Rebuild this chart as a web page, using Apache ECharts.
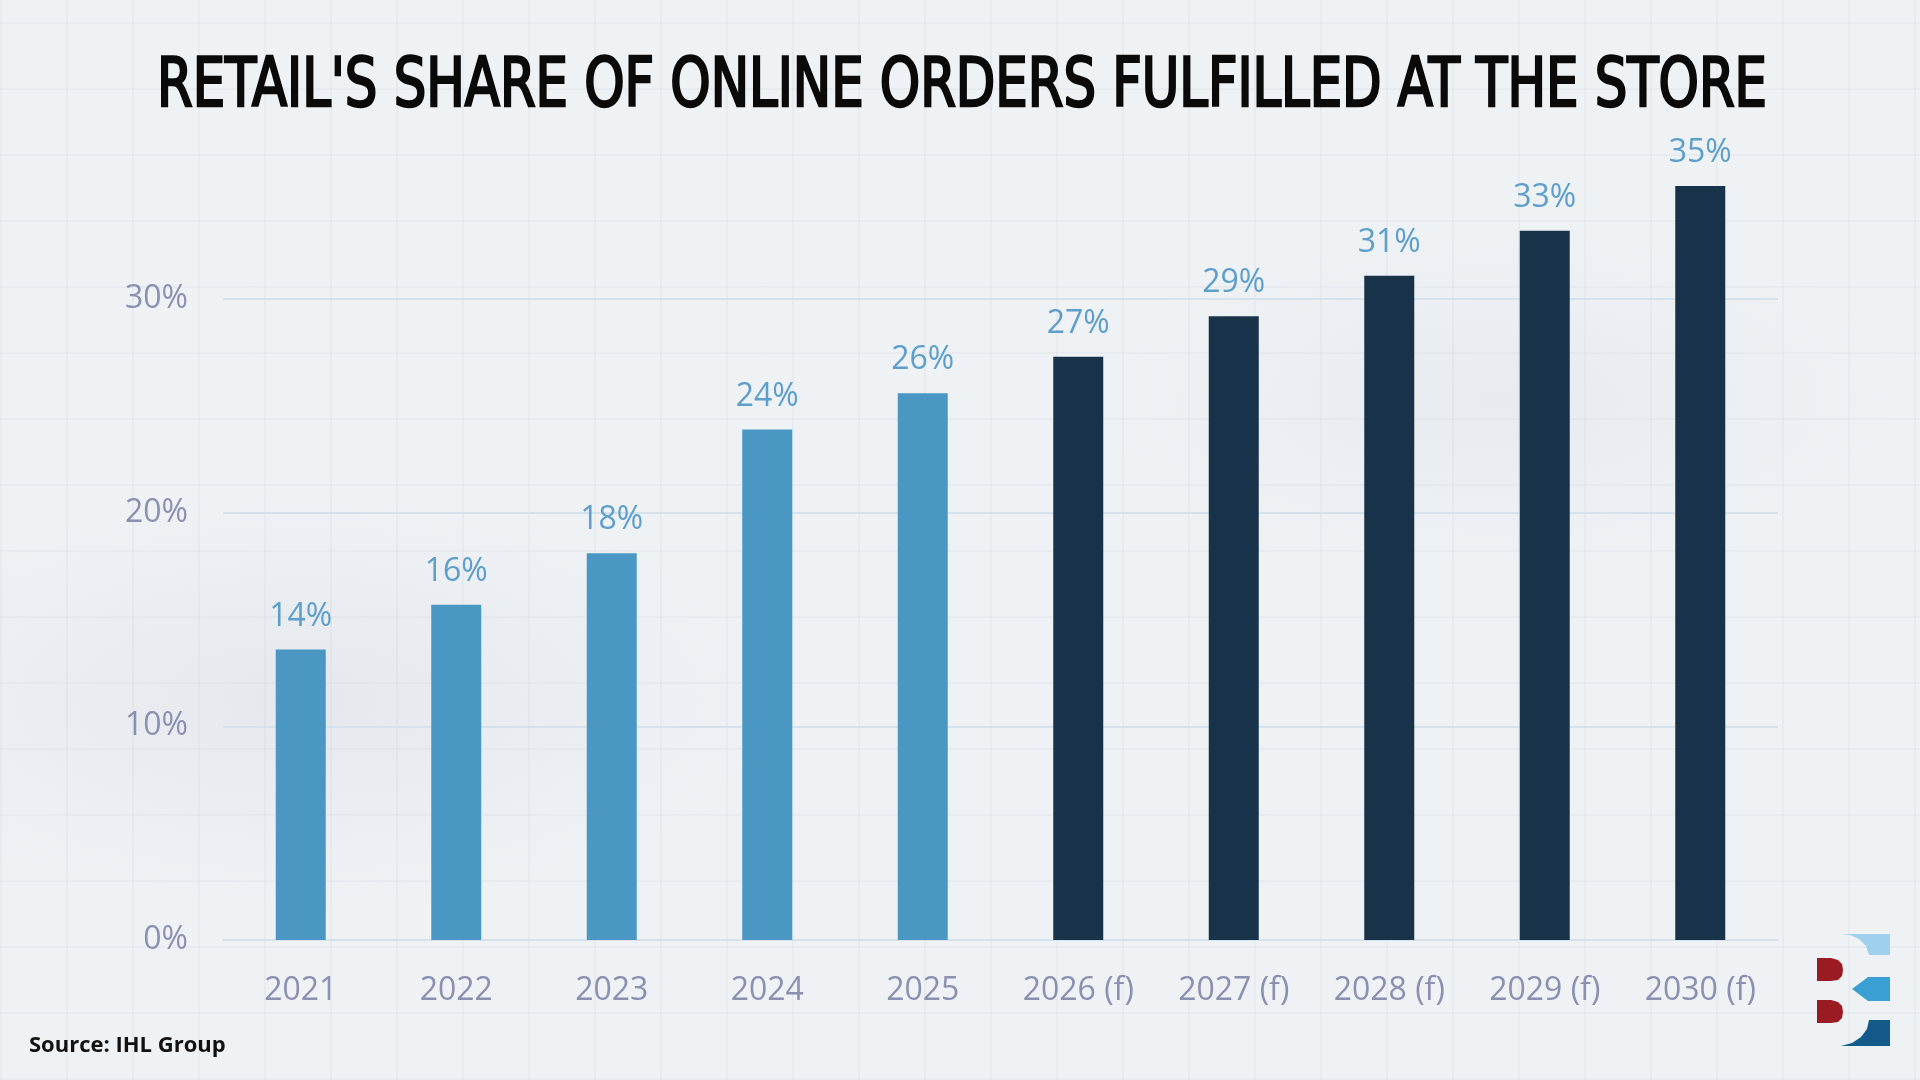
<!DOCTYPE html>
<html>
<head>
<meta charset="utf-8">
<script src="https://cdn.jsdelivr.net/npm/echarts@6/dist/echarts.min.js"></script>
<style>
html,body{margin:0;padding:0;width:1920px;height:1080px;overflow:hidden;}
body{
  background-color:#eff2f5;
  background-image:
    radial-gradient(ellipse 700px 300px at 300px 700px, rgba(205,211,219,0.3), rgba(205,211,219,0) 70%),
    radial-gradient(ellipse 600px 250px at 1500px 400px, rgba(208,214,221,0.25), rgba(208,214,221,0) 70%),
    repeating-linear-gradient(90deg, rgba(190,198,208,0.16) 0px, rgba(190,198,208,0.16) 2px, rgba(0,0,0,0) 2px, rgba(0,0,0,0) 66px),
    repeating-linear-gradient(0deg, rgba(190,198,208,0.16) 0px, rgba(190,198,208,0.16) 2px, rgba(0,0,0,0) 2px, rgba(0,0,0,0) 66px);
}
#chart{width:1920px;height:1080px;}
</style>
</head>
<body>
<div id="chart"></div>
<script>
// ---- data ----
var categories = ['2021','2022','2023','2024','2025','2026 (f)','2027 (f)','2028 (f)','2029 (f)','2030 (f)'];
var shareValues = [13.6, 15.7, 18.1, 23.9, 25.6, 27.3, 29.2, 31.1, 33.2, 35.3];
var isForecast = [false, false, false, false, false, true, true, true, true, true];
var yTickValues = [0, 10, 20, 30];
var titleText = "RETAIL'S SHARE OF ONLINE ORDERS FULFILLED AT THE STORE";
var sourceText = 'Source: IHL Group';

var actualColor = '#4a97c4';
var forecastColor = '#18324a';

// title width fitting
var titleFont = '400 68px "DejaVu Sans Condensed", "DejaVu Sans", sans-serif';
var cv = document.createElement('canvas').getContext('2d');
cv.font = titleFont;
var titleW = cv.measureText(titleText).width;
var titleScale = 1610 / titleW;

var chart = echarts.init(document.getElementById('chart'), null, {renderer:'canvas'});

var barData = shareValues.map(function(v, i){
  return { value: v, itemStyle: { color: isForecast[i] ? forecastColor : actualColor } };
});

var option = {
  backgroundColor: 'transparent',
  animation: false,
  grid: { left: 223, right: 142, top: 171, bottom: 140, containLabel: false },
  xAxis: {
    type: 'category',
    data: categories,
    axisLine: { show: true, lineStyle: { color: '#d5e2ec', width: 2 } },
    axisTick: { show: false },
    axisLabel: { color: '#8b8fb0', fontSize: 32, fontFamily: '"Open Sans", sans-serif', margin: 35 }
  },
  yAxis: {
    type: 'value',
    min: 0,
    max: 36,
    interval: 10,
    axisLine: { show: false },
    axisTick: { show: false },
    axisLabel: {
      color: '#8b8fb0', fontSize: 32, fontFamily: '"Open Sans", sans-serif', margin: 35,
      showMaxLabel: false,
      formatter: function(v){ return yTickValues.indexOf(v) >= 0 ? v + '%' : ''; }
    },
    splitLine: { show: true, showMaxLine: false, lineStyle: { color: '#d5e2ec', width: 2 } }
  },
  series: [{
    type: 'bar',
    data: barData,
    barWidth: 50,
    label: {
      show: true,
      position: 'top',
      distance: 17,
      color: '#5d9ecb',
      fontSize: 32,
      fontFamily: '"Open Sans", sans-serif',
      formatter: function(p){ return Math.round(p.value) + '%'; }
    }
  }],
  graphic: [
    {
      type: 'text',
      x: 962, y: 88,
      scaleX: titleScale, scaleY: 1,
      style: {
        text: titleText,
        font: titleFont,
        fill: '#0a0a0a',
        stroke: '#0a0a0a',
        lineWidth: 2.5,
        textAlign: 'center',
        textVerticalAlign: 'middle'
      }
    },
    {
      type: 'text',
      x: 29, y: 1046,
      style: {
        text: sourceText,
        font: '700 22px "Open Sans", sans-serif',
        fill: '#111111',
        textAlign: 'left',
        textVerticalAlign: 'middle'
      }
    },
    // logo
    { type: 'polygon', shape: { points: [[1841,934],[1890,934],[1890,955],[1869,955],[1866,946],[1859,939],[1850,935]] }, style: { fill: '#9fd0ee' } },
    { type: 'polygon', shape: { points: [[1868,977],[1890,977],[1890,1001],[1868,1001],[1852,989]] }, style: { fill: '#3aa0d3' } },
    { type: 'polygon', shape: { points: [[1869,1020],[1890,1020],[1890,1046],[1841,1046],[1852,1043],[1861,1037],[1867,1029]] }, style: { fill: '#135a8a' } },
    { type: 'polygon', shape: { points: [[1817,958],[1831,958],[1838,960],[1842,964],[1843,970],[1842,976],[1838,980],[1831,981],[1817,981]] }, style: { fill: '#9a1c22' } },
    { type: 'polygon', shape: { points: [[1817,1000],[1831,1000],[1838,1002],[1842,1006],[1843,1012],[1842,1018],[1838,1022],[1831,1023],[1817,1023]] }, style: { fill: '#9a1c22' } }
  ]
};
chart.setOption(option);
</script>
</body>
</html>
